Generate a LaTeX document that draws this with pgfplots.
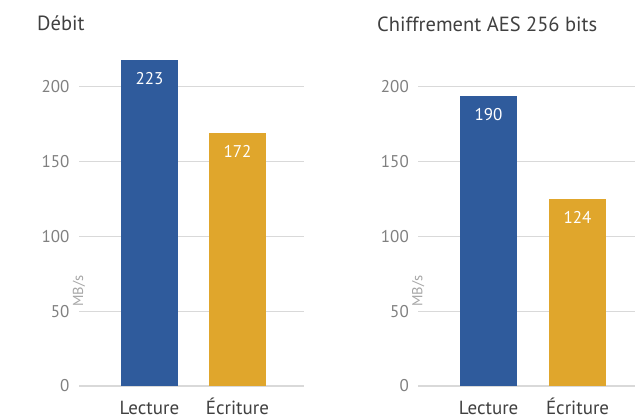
\documentclass[border=0pt]{standalone}
\usepackage{pgfplots}
\pgfplotsset{compat=1.18}
\usepackage{pgfplotstable}
\usepackage{fontspec}
\setmainfont{PT Sans}
\definecolor{cblue}{HTML}{2F5B9C}
\definecolor{cgold}{HTML}{E0A62C}
\definecolor{cgrid}{HTML}{D9D9D9}
\definecolor{ctick}{HTML}{808080}
\definecolor{clab}{HTML}{A6A6A6}
\definecolor{ctitle}{HTML}{404040}
\pgfplotstableread{
x y lab
0 218 223
}\debitL
\pgfplotstableread{
x y lab
1 169 172
}\debitE
\pgfplotstableread{
x y lab
0 194 190
}\aesL
\pgfplotstableread{
x y lab
1 125 124
}\aesE
\pgfplotsset{
  mystyle/.style={
    scale only axis, height=359pt, ymin=0, ymax=240,
    ytick={0,50,100,150,200},
    xtick={0,1}, xticklabels={Lecture,Écriture},
    ymajorgrids, grid style={cgrid, line width=1.2pt},
    axis line style={draw=none}, major tick length=0pt,
    /pgf/number format/assume math mode=true,
    yticklabel style={font=\fontsize{17}{20}\selectfont, text=ctick, xshift=-6pt},
    xticklabel style={font=\fontsize{19}{22}\selectfont, text=ctitle, anchor=north, text height=13pt, yshift=-12pt},
    ybar, bar width=57pt, bar shift=0pt,
    nodes near coords, point meta=explicit,
    every node near coord/.style={anchor=north, yshift=-12pt, inner sep=0pt, text=white, font=\fontsize{17}{20}\selectfont},
    ylabel={MB/s},
    every axis y label/.style={at={(rel axis cs:0,0.423)}, rotate=90, anchor=center, font=\fontsize{14.5}{17}\selectfont, text=clab},
    every axis title/.style={at={(rel axis cs:0,1)}, anchor=base west, inner sep=0pt, font=\fontsize{20.5}{24}\selectfont, text=ctitle},
  }
}
\begin{document}
\begin{tikzpicture}[x=1pt,y=1pt]
\useasboundingbox (0,0) rectangle (635,418);
\clip (0,0) rectangle (635,418);
\begin{axis}[mystyle, at={(79pt,32pt)}, anchor=south west,
  width=225pt, xmin=-0.80, xmax=1.756,
  title={Débit}, title style={xshift=-42pt, yshift=-3.7pt},
  ylabel style={xshift=-57pt}]
\addplot[fill=cblue, draw=none] table[x=x, y=y, meta=lab] {\debitL};
\addplot[fill=cgold, draw=none] table[x=x, y=y, meta=lab] {\debitE};
\end{axis}
\begin{axis}[mystyle, at={(418.3pt,32pt)}, anchor=south west,
  width=218pt, xmin=-0.79, xmax=1.66,
  title={Chiffrement AES 256 bits}, title style={xshift=-41.3pt, yshift=-4.5pt},
  ylabel style={xshift=-56.8pt}]
\addplot[fill=cblue, draw=none] table[x=x, y=y, meta=lab] {\aesL};
\addplot[fill=cgold, draw=none] table[x=x, y=y, meta=lab] {\aesE};
\end{axis}
\end{tikzpicture}
\end{document}
